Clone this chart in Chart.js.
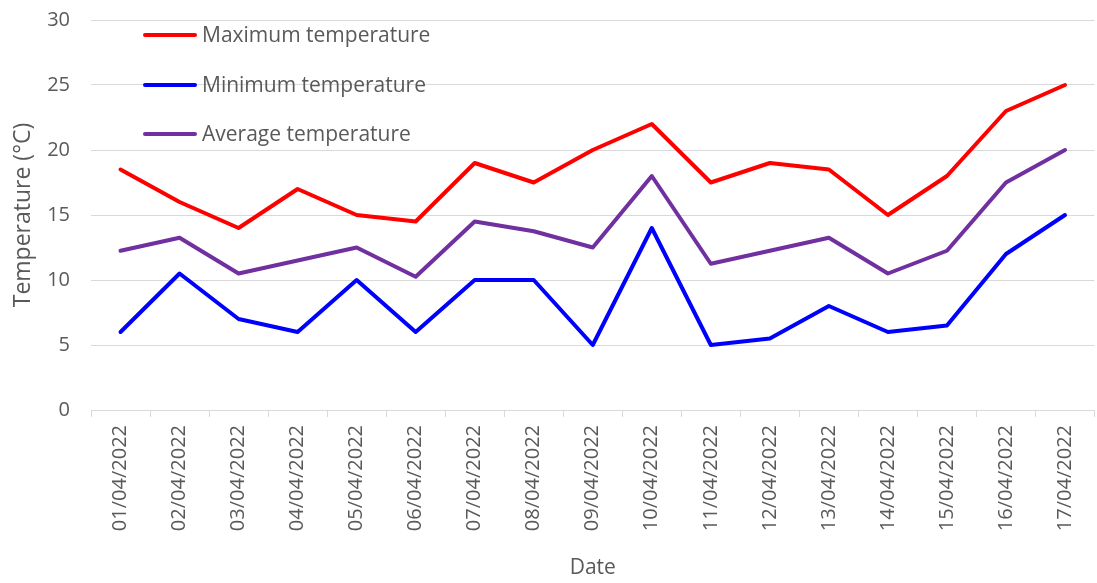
<!DOCTYPE html>
<html>
<head>
<meta charset="utf-8">
<script src="https://cdn.jsdelivr.net/npm/chart.js@4.4.1/dist/chart.umd.min.js"></script>
<style>
  html, body { margin: 0; padding: 0; background: #fff; }
  #wrap { width: 1097px; height: 583px; }
</style>
</head>
<body>
<div id="wrap"><canvas id="tempChart"></canvas></div>
<script>
var dates = ['01/04/2022', '02/04/2022', '03/04/2022', '04/04/2022', '05/04/2022', '06/04/2022',
    '07/04/2022', '08/04/2022', '09/04/2022', '10/04/2022', '11/04/2022', '12/04/2022',
    '13/04/2022', '14/04/2022', '15/04/2022', '16/04/2022', '17/04/2022'];
var maxTemp = [18.5, 16, 14, 17, 15, 14.5, 19, 17.5, 20, 22, 17.5, 19, 18.5, 15, 18, 23, 25];
var minTemp = [6, 10.5, 7, 6, 10, 6, 10, 10, 5, 14, 5, 5.5, 8, 6, 6.5, 12, 15];
var avgTemp = [12.25, 13.25, 10.5, 11.5, 12.5, 10.25, 14.5, 13.75, 12.5, 18, 11.25, 12.25, 13.25, 10.5, 12.25, 17.5, 20];
var yTicks = [0, 5, 10, 15, 20, 25, 30];

var textColor = '#595959';
var fontFamily = '"Open Sans", sans-serif';

// legend drawn inside the plot, top left, one row per series
var insideLegend = {
    id: 'insideLegend',
    afterDraw: function (chart) {
        var ctx = chart.ctx;
        var rows = [35, 85, 134];
        ctx.save();
        ctx.font = '21px ' + fontFamily;
        ctx.textBaseline = 'middle';
        chart.data.datasets.forEach(function (ds, i) {
            ctx.strokeStyle = ds.borderColor;
            ctx.lineWidth = 4;
            ctx.lineCap = 'round';
            ctx.beginPath();
            ctx.moveTo(145, rows[i]);
            ctx.lineTo(195, rows[i]);
            ctx.stroke();
            ctx.fillStyle = textColor;
            ctx.fillText(ds.label, 202, rows[i] + 1);
        });
        ctx.restore();
    }
};

var ctx = document.getElementById('tempChart');
var tempChart = new Chart(ctx, {
    type: 'line',
    data: {
        labels: dates,
        datasets: [
            { label: 'Maximum temperature', data: maxTemp, borderColor: '#ff0000' },
            { label: 'Minimum temperature', data: minTemp, borderColor: '#0000ff' },
            { label: 'Average temperature', data: avgTemp, borderColor: '#7030a0' }
        ]
    },
    options: {
        responsive: true,
        maintainAspectRatio: false,
        animation: false,
        layout: { padding: { top: 0, right: 0, left: 0, bottom: 0 } },
        elements: {
            line: { borderWidth: 4, tension: 0, borderCapStyle: 'round', borderJoinStyle: 'round' },
            point: { radius: 0, hoverRadius: 0 }
        },
        plugins: {
            legend: { display: false },
            tooltip: { enabled: false }
        },
        scales: {
            x: {
                offset: true,
                grid: {
                    offset: true,
                    drawOnChartArea: false,
                    color: '#d9d9d9',
                    tickLength: 7
                },
                border: { color: '#d9d9d9', width: 1 },
                ticks: {
                    color: textColor,
                    font: { family: fontFamily, size: 20 },
                    minRotation: 90,
                    maxRotation: 90,
                    autoSkip: false,
                    padding: 8
                },
                title: {
                    display: true,
                    text: 'Date',
                    color: textColor,
                    font: { family: fontFamily, size: 21 },
                    padding: { top: 4, bottom: 2 }
                },
                afterFit: function (scale) { scale.height = 173; }
            },
            y: {
                min: 0,
                max: 30,
                afterBuildTicks: function (scale) {
                    scale.ticks = yTicks.map(function (v) { return { value: v }; });
                },
                grid: { color: '#d9d9d9', drawTicks: false },
                border: { display: false },
                ticks: {
                    color: textColor,
                    font: { family: fontFamily, size: 20 },
                    padding: 21
                },
                title: {
                    display: true,
                    text: 'Temperature (°C)',
                    color: textColor,
                    font: { family: fontFamily, size: 23 },
                    padding: { top: 10, bottom: 4 }
                },
                afterFit: function (scale) {
                    scale.width = 91;
                    scale.paddingTop = 20;
                }
            }
        }
    },
    plugins: [insideLegend]
});
</script>
</body>
</html>
